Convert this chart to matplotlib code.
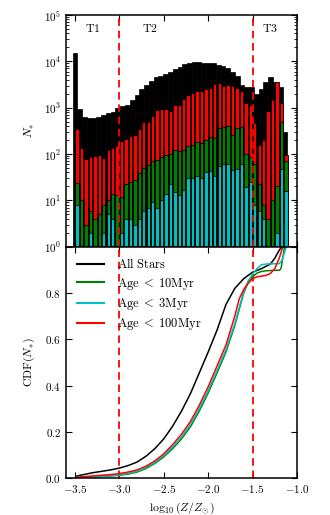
import numpy as np
import matplotlib
matplotlib.use("Agg")
import matplotlib.pyplot as plt

plt.rcParams['mathtext.fontset'] = 'cm'
plt.rcParams['font.family'] = ['DejaVu Serif']

# ---------------- data ----------------
# colored histograms: bin centers (log10 Z/Zsun), 0.05 wide
bin_centers = [-3.475, -3.425, -3.375, -3.325, -3.275, -3.225, -3.175, -3.125,
               -3.075, -3.025, -2.975, -2.925, -2.875, -2.825, -2.775, -2.725,
               -2.675, -2.625, -2.575, -2.525, -2.475, -2.425, -2.375, -2.325,
               -2.275, -2.225, -2.175, -2.125, -2.075, -2.025, -1.975, -1.925,
               -1.875, -1.825, -1.775, -1.725, -1.675, -1.625, -1.575, -1.525,
               -1.475, -1.425, -1.375, -1.325, -1.275, -1.225, -1.175, -1.125]
age100_counts = [343, 133, 77, 85, 91, 96, 81, 123, 133, 150, 186, 210, 245, 257,
                 343, 480, 500, 650, 870, 930, 930, 830, 1140, 1140, 1520, 1890,
                 2050, 2230, 2300, 2500, 2700, 3250, 3350, 3000, 3100, 2950, 2700,
                 2230, 1250, 1140, 460, 157, 200, 830, 1450, 3500, 1250, 95]
age10_counts = [24, 10, 3, 6, 4, 5, 8, 10, 14, 13, 12, 23, 25, 28, 38, 49, 58, 69,
                75, 88, 95, 100, 120, 117, 121, 150, 158, 180, 175, 200, 230, 220,
                360, 390, 405, 255, 360, 380, 100, 88, 60, 22, 8, 4, 10, 20, 480, 72]
age3_counts = [8, 0, 0, 2, 0, 0, 2, 5, 4, 0, 2, 4, 4, 3, 4, 6, 7, 9, 7, 10, 14, 22,
               15, 13, 17, 30, 31, 34, 30, 40, 44, 34, 55, 60, 61, 45, 48, 61, 19,
               25, 8, 6, 4, 0, 0, 2, 47, 16]

# all stars histogram (its own bins)
all_left_edges = [-3.526, -3.472, -3.419, -3.365, -3.311, -3.258, -3.204, -3.150,
                  -3.096, -3.043, -2.989, -2.935, -2.882, -2.828, -2.774, -2.720,
                  -2.667, -2.613, -2.559, -2.506, -2.452, -2.398, -2.345, -2.291,
                  -2.237, -2.183, -2.130, -2.076, -2.022, -1.969, -1.915, -1.861,
                  -1.808, -1.754, -1.700, -1.646, -1.593, -1.539, -1.485, -1.432,
                  -1.378, -1.324, -1.271, -1.217, -1.163]
all_counts = [15000, 930, 640, 590, 590, 640, 700, 760, 820, 970, 1090, 1150,
              1470, 1890, 2500, 3100, 3800, 4500, 4900, 5400, 6000, 6800, 7700,
              8700, 9300, 9600, 9600, 9400, 9300, 9000, 8500, 8000, 7100, 6000,
              4700, 3100, 2850, 2750, 2000, 2500, 3500, 4500, 3600, 2850, 300]

# cumulative distributions
cdf_all_x = [-3.49, -3.45, -3.40, -3.30, -3.20, -3.10, -3.00, -2.90, -2.80, -2.70,
             -2.60, -2.50, -2.40, -2.30, -2.20, -2.10, -2.00, -1.90, -1.80, -1.70,
             -1.60, -1.50, -1.40, -1.30, -1.25, -1.20, -1.17]
cdf_all_y = [0.008, 0.012, 0.016, 0.024, 0.030, 0.036, 0.044, 0.055, 0.070, 0.095,
             0.128, 0.170, 0.225, 0.290, 0.365, 0.455, 0.545, 0.640, 0.750, 0.820,
             0.862, 0.890, 0.905, 0.925, 0.950, 0.985, 1.0]
cdf_10_x = [-3.48, -3.30, -3.10, -3.00, -2.90, -2.80, -2.70, -2.60, -2.50, -2.40,
            -2.30, -2.20, -2.10, -2.00, -1.90, -1.80, -1.70, -1.60, -1.55, -1.50,
            -1.45, -1.40, -1.35, -1.30, -1.25, -1.20, -1.18, -1.14]
cdf_10_y = [0.002, 0.006, 0.010, 0.013, 0.018, 0.027, 0.042, 0.064, 0.092, 0.128,
            0.170, 0.222, 0.290, 0.368, 0.455, 0.545, 0.660, 0.800, 0.845, 0.870,
            0.886, 0.893, 0.896, 0.897, 0.898, 0.898, 0.905, 1.0]
cdf_3_x = [-3.48, -3.30, -3.10, -3.00, -2.90, -2.80, -2.70, -2.60, -2.50, -2.40,
           -2.30, -2.20, -2.10, -2.00, -1.90, -1.80, -1.70, -1.60, -1.55, -1.50,
           -1.45, -1.40, -1.35, -1.30, -1.25, -1.20, -1.17, -1.12]
cdf_3_y = [0.003, 0.007, 0.011, 0.015, 0.021, 0.030, 0.046, 0.068, 0.097, 0.135,
           0.178, 0.232, 0.300, 0.378, 0.465, 0.555, 0.668, 0.805, 0.852, 0.882,
           0.905, 0.922, 0.925, 0.926, 0.926, 0.927, 0.940, 1.0]
cdf_100_x = [-3.48, -3.40, -3.30, -3.20, -3.10, -3.00, -2.90, -2.80, -2.70, -2.60,
             -2.50, -2.40, -2.30, -2.20, -2.10, -2.00, -1.90, -1.80, -1.70, -1.65,
             -1.60, -1.55, -1.50, -1.45, -1.40, -1.35, -1.30, -1.25, -1.20, -1.16]
cdf_100_y = [0.004, 0.007, 0.010, 0.013, 0.016, 0.020, 0.027, 0.036, 0.052, 0.075,
             0.105, 0.145, 0.190, 0.245, 0.315, 0.395, 0.485, 0.575, 0.700, 0.775,
             0.815, 0.842, 0.862, 0.870, 0.873, 0.876, 0.884, 0.905, 0.950, 1.0]

transition_lines = [-3.0, -1.5]
region_labels = ['T1', 'T2', 'T3']
region_label_x = [-3.30, -2.66, -1.30]

xtick_vals = [-3.5, -3.0, -2.5, -2.0, -1.5, -1.0]
xtick_labels = [r'$-3.5$', r'$-3.0$', r'$-2.5$', r'$-2.0$', r'$-1.5$', r'$-1.0$']
ytick_top_vals = [1, 10, 100, 1000, 10000, 100000]
ytick_top_labels = [r'$10^{0}$', r'$10^{1}$', r'$10^{2}$', r'$10^{3}$', r'$10^{4}$', r'$10^{5}$']
ytick_bot_vals = [0.0, 0.2, 0.4, 0.6, 0.8, 1.0]
ytick_bot_labels = [r'$0.0$', r'$0.2$', r'$0.4$', r'$0.6$', r'$0.8$', '']

# ---------------- plot ----------------
fig = plt.figure(figsize=(3.3, 5.15), dpi=100)
ax1 = fig.add_axes([0.2, 0.521, 0.7, 0.45])
ax2 = fig.add_axes([0.2, 0.0713, 0.7, 0.4497], sharex=ax1)

ax1.set_yscale('log', nonpositive='clip')


def masked(vals):
    xs = [x for x, v in zip(bin_centers, vals) if v > 0]
    vs = [v for v in vals if v > 0]
    return xs, vs


all_width = all_left_edges[1] - all_left_edges[0]
ax1.bar(all_left_edges, all_counts, width=all_width, align='edge',
        color='k', edgecolor='k', linewidth=0.5)
for vals, col in [(age100_counts, 'r'), (age10_counts, 'g'), (age3_counts, 'c')]:
    xs, vs = masked(vals)
    ax1.bar(xs, vs, width=0.0375, color=col, edgecolor='k', linewidth=0.6)

dash = dict(color='r', linestyle='--', linewidth=1.3, dashes=(4.2, 2.6))
for xv in transition_lines:
    ax1.axvline(xv, **dash)
    ax2.axvline(xv, **dash)

for lab, xv in zip(region_labels, region_label_x):
    ax1.text(xv, 5.0e4, r'$\mathrm{%s}$' % lab, ha='center', va='center', fontsize=8.5)

ax1.set_ylim(1, 1e5)
ax1.set_xlim(-3.6, -1.0)
ax1.set_yticks(ytick_top_vals)
ax1.set_yticklabels(ytick_top_labels)
ax1.set_ylabel(r'$N_{*}$', fontsize=8.5)
plt.setp(ax1.get_xticklabels(), visible=False)

ax2.plot(cdf_all_x, cdf_all_y, color='k', lw=1.1, label=r'$\mathrm{All\ Stars}$')
ax2.plot(cdf_10_x, cdf_10_y, color='g', lw=1.1, label=r'$\mathrm{Age}\;<\;10\mathrm{Myr}$')
ax2.plot(cdf_3_x, cdf_3_y, color='c', lw=1.1, label=r'$\mathrm{Age}\;<\;3\mathrm{Myr}$')
ax2.plot(cdf_100_x, cdf_100_y, color='r', lw=1.1, label=r'$\mathrm{Age}\;<\;100\mathrm{Myr}$')
ax2.set_ylim(0, 1.0)
ax2.set_yticks(ytick_bot_vals)
ax2.set_yticklabels(ytick_bot_labels)
ax2.set_xticks(xtick_vals)
ax2.set_xticklabels(xtick_labels)
ax2.set_xlim(-3.6, -1.0)
ax2.set_ylabel(r'$\mathrm{CDF}(N_{*})$', fontsize=8.5)
ax2.set_xlabel(r'$\log_{10}(Z/Z_{\odot})$', fontsize=8.5)
leg = ax2.legend(loc='upper left', frameon=False, fontsize=9, handlelength=2.2,
                 handletextpad=1.0, labelspacing=0.35, borderaxespad=0.45)
for ln in leg.get_lines():
    ln.set_linewidth(1.5)

for ax in (ax1, ax2):
    ax.tick_params(which='both', direction='in', top=True, right=True, labelsize=8)
    ax.tick_params(which='major', length=4.5, width=0.8)
    ax.tick_params(which='minor', length=2.2, width=0.6)
    for s in ax.spines.values():
        s.set_linewidth(1.1)
    ax.yaxis.set_label_coords(-0.125, 0.5)

fig.savefig('out.png', dpi=100)
